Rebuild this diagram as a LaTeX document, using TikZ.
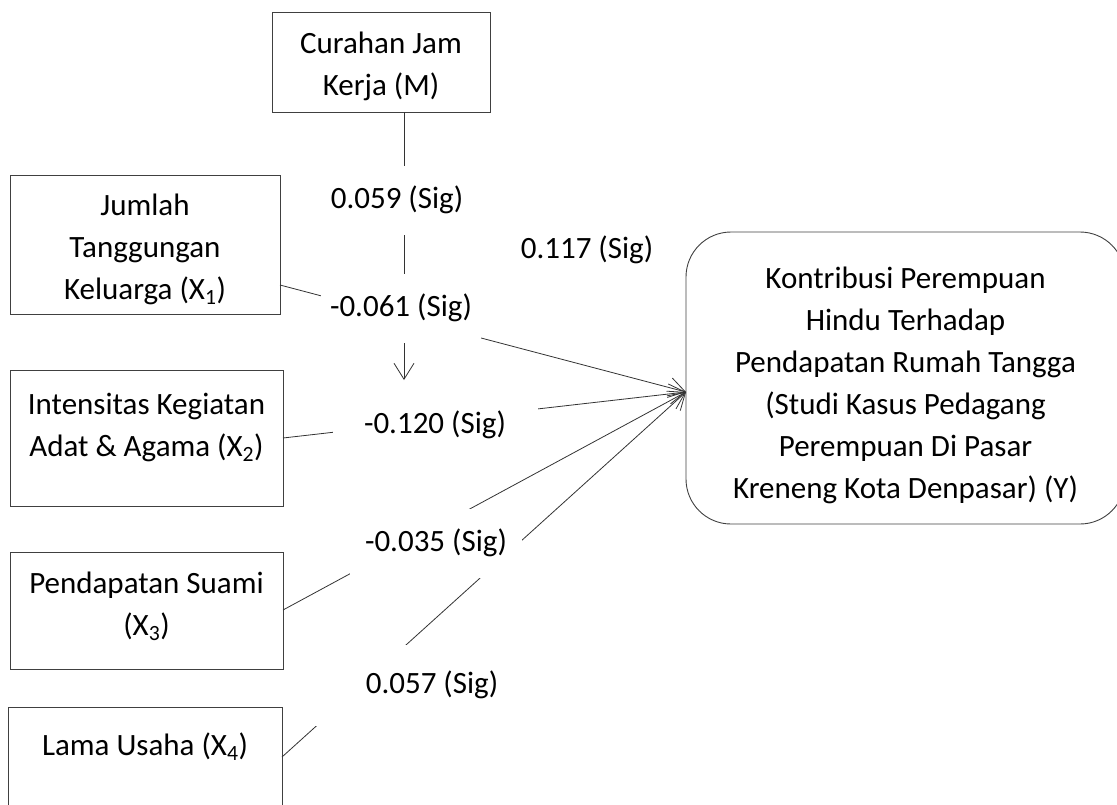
\documentclass[tikz,border=0pt]{standalone}
\usepackage{fontspec}
\setmainfont{Carlito}
\usetikzlibrary{arrows.meta}
\newcommand{\bxt}[4]{\parbox{#1}{\centering\rule{0pt}{#2}#4\rule[-#3]{0pt}{#3}}}
\begin{document}
\begin{tikzpicture}[x=1pt,y=-1pt,
  every node/.style={font=\fontsize{31}{42}\selectfont},
  box/.style={draw=black!75, line width=0.9pt, inner sep=0pt, outer sep=0pt, rectangle},
  lab/.style={fill=white, inner sep=0pt},
  conn/.style={draw=black!80, line width=0.8pt},
  arr/.style={conn, -{Straight Barb[length=16pt,width=20pt]}}]
\useasboundingbox (0,0) rectangle (1117,804);
\node[box] (M) at (381,62) {\bxt{218pt}{41pt}{17pt}{Curahan Jam\\Kerja (M)}};
\node[box] (X1) at (145,244.5) {\bxt{270pt}{40pt}{15pt}{Jumlah\\Tanggungan\\Keluarga (X\textsubscript{1})}};
\node[box] (X2) at (146.5,438) {\bxt{273pt}{44pt}{50pt}{Intensitas Kegiatan\\Adat \& Agama (X\textsubscript{2})}};
\node[box] (X3) at (146.5,610.5) {\bxt{273pt}{41pt}{34pt}{Pendapatan Suami\\(X\textsubscript{3})}};
\node[box] (X4) at (145,775) {\bxt{274pt}{48pt}{88pt}{Lama Usaha (X\textsubscript{4})}};
\node[box, rounded corners=45pt] (Y) at (905.5,378) {\bxt{439pt}{56pt}{26pt}{Kontribusi Perempuan\\Hindu Terhadap\\Pendapatan Rumah Tangga\\(Studi Kasus Pedagang\\Perempuan Di Pasar\\Kreneng Kota Denpasar) (Y)}};
\coordinate (yin) at (Y.west |- 0,392);
\coordinate (mtip) at (404,380);
\draw[arr] (X1.east |- 0,285) -- (yin);
\draw[arr] (X2.east |- 0,438) -- (yin);
\draw[arr] (X3.east |- 0,610) -- (yin);
\draw[arr] (X4.east |- 0,757) -- (yin);
\draw[arr] (M.south -| mtip) -- (mtip);
\node[lab, minimum width=170pt, minimum height=69pt] (l1) at (397,200) {0.059 (Sig)};
\node[lab, minimum width=170pt, minimum height=69pt] (l2) at (587,250) {0.117 (Sig)};
\node[lab, minimum width=160pt, minimum height=69pt] (l3) at (401,308) {-0.061 (Sig)};
\node[lab, minimum width=205pt, minimum height=65pt] (l4) at (435,425) {-0.120 (Sig)};
\node[lab, minimum width=172pt, minimum height=69pt] (l5) at (436,543) {-0.035 (Sig)};
\node[lab, minimum width=240pt, minimum height=81pt] (l6) at (432,685) {0.057 (Sig)};
\end{tikzpicture}
\end{document}
